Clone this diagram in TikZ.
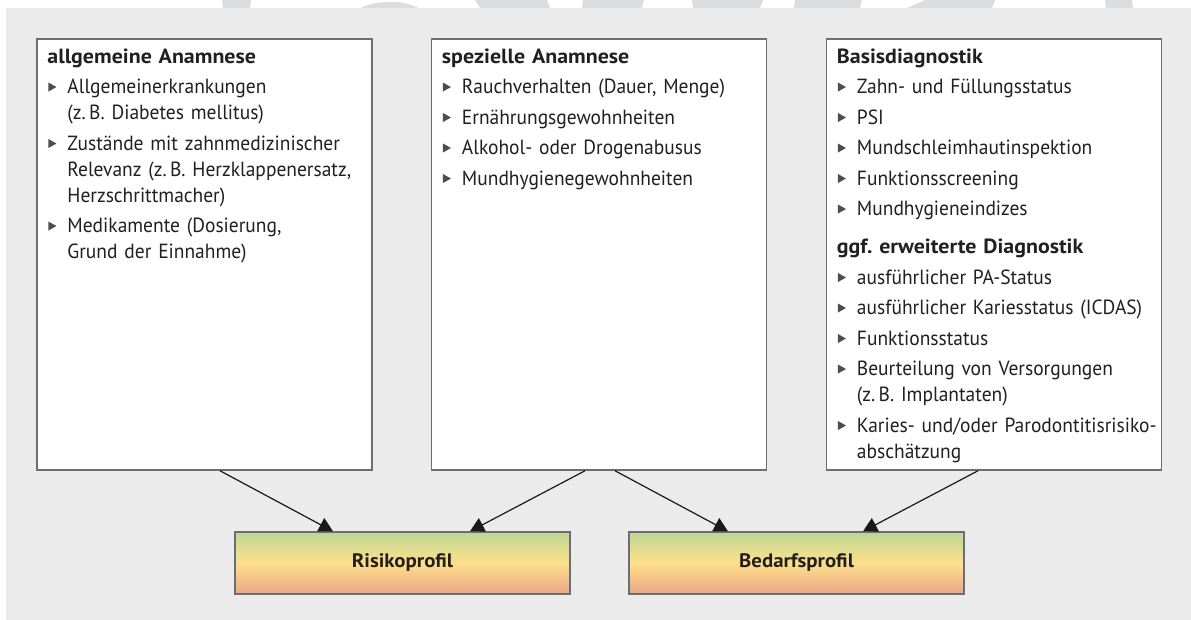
\documentclass[tikz,border=0pt]{standalone}
\usepackage{fontspec}
\setmainfont{PT Sans}[FakeStretch=0.95]
\newfontfamily\headfont{PT Sans}[FakeStretch=1.07]
\usetikzlibrary{arrows.meta,calc}
\definecolor{panel}{HTML}{EAEBEA}
\definecolor{wmark}{HTML}{DCDDDF}
\definecolor{boxline}{HTML}{6D6E71}
\definecolor{txt}{HTML}{231F20}
\definecolor{bulc}{HTML}{4D4D4F}
\definecolor{pgreen}{HTML}{BCD794}
\definecolor{pyellow}{HTML}{FEE08C}
\definecolor{psalmon}{HTML}{EBA587}
\newcommand\bulmark{\hspace*{1pt}\tikz[baseline=0pt]\fill[bulc](0pt,2pt)--(0pt,11pt)--(8pt,6.5pt)--cycle;}
\newcommand\bitem[1]{\par\vspace{4.5pt}\noindent\hangindent=20pt\hangafter=1\makebox[20pt][l]{\bulmark}#1\par}
\newcommand\bhead[1]{\noindent{\headfont\bfseries #1}\par}
\begin{document}
\begin{tikzpicture}[x=1pt,y=-1pt,
  infobox/.style={draw=boxline,line width=1.5pt,fill=white,inner sep=0pt,minimum width=335pt,minimum height=431pt},
  listtext/.style={anchor=north west,inner sep=0pt,text width=322pt,align=left,text=txt,
     font=\fontsize{20.5}{26}\selectfont\frenchspacing},
  profbox/.style={draw=boxline,line width=1.3pt,inner sep=0pt,minimum width=335pt,minimum height=62pt,
     top color=pgreen,bottom color=psalmon,middle color=pyellow,text=txt,font=\fontsize{19.5}{22}\selectfont\headfont\bfseries},
  conn/.style={line width=1.2pt,black!90,-{Triangle[length=14pt,width=15pt]}}
]
\useasboundingbox (0,0) rectangle (1191,620);
% watermark fragments at top
\fill[wmark] (222,0)--(251,0)--(250,8)--(223,8)--cycle;
\fill[wmark] (361,8)..controls (375,0) and (405,0)..(418,8)--cycle;
\fill[wmark] (475,0)--(547,0)--(550,8)--(480,8)--cycle;
\fill[wmark] (583,0)--(644,0)--(642,8)--(582,8)--cycle;
\fill[wmark] (692,0)--(763,0)--(760,8)--(693,8)--cycle;
\fill[wmark] (795,0)--(862,0)--(860,8)--(794,8)--cycle;
\fill[wmark] (925,0)--(995,0)--(992,8)--(907,8)--cycle;
\fill[wmark] (1105,0)--(1132,0)--(1133,8)--(1106,8)--cycle;
% panel
\fill[panel] (6,8) rectangle (1191,620);

% boxes
\node[infobox] (b1) at (204.5,254.5) {};
\node[infobox] (b2) at (599,254.5) {};
\node[infobox] (b3) at (994,254.5) {};

\node[listtext] (t1) at ([xshift=11pt,yshift=-10pt]b1.north west) {%
\bhead{allgemeine Anamnese}
\bitem{Allgemeinerkrankungen\newline(z.\,B. Diabetes mellitus)}
\bitem{Zustände mit zahnmedizinischer\newline Relevanz (z.\,B. Herzklappenersatz,\newline Herzschrittmacher)}
\bitem{Medikamente (Dosierung,\newline Grund der Einnahme)}};

\node[listtext] (t2) at ([xshift=11pt,yshift=-10pt]b2.north west) {%
\bhead{spezielle Anamnese}
\bitem{Rauchverhalten (Dauer, Menge)}
\bitem{Ernährungsgewohnheiten}
\bitem{Alkohol- oder Drogenabusus}
\bitem{Mundhygienegewohnheiten}};

\node[listtext] (t3) at ([xshift=11pt,yshift=-10pt]b3.north west) {%
\bhead{Basisdiagnostik}
\bitem{Zahn- und Füllungsstatus}
\bitem{PSI}
\bitem{Mundschleimhautinspektion}
\bitem{Funktionsscreening}
\bitem{Mundhygieneindizes}
\vspace{12pt}\bhead{ggf. erweiterte Diagnostik}
\bitem{ausführlicher PA-Status}
\bitem{ausführlicher Kariesstatus (ICDAS)}
\bitem{Funktionsstatus}
\bitem{Beurteilung von Versorgungen\newline(z.\,B. Implantaten)}
\bitem{Karies- und/oder Parodontitisrisiko-\newline abschätzung}};

% profiles
\node[profbox] (rp) at (402.5,563) {Risikoprofil};
\node[profbox] (bp) at (796.5,563) {Bedarfsprofil};

% connectors
\draw[conn] ([xshift=15.5pt]b1.south) -- ([xshift=-69.5pt]rp.north);
\draw[conn] ([xshift=-14pt]b2.south) -- ([xshift=67.5pt]rp.north);
\draw[conn] ([xshift=16pt]b2.south) -- ([xshift=-68.5pt]bp.north);
\draw[conn] ([xshift=-16pt]b3.south) -- ([xshift=66.5pt]bp.north);
\end{tikzpicture}
\end{document}
